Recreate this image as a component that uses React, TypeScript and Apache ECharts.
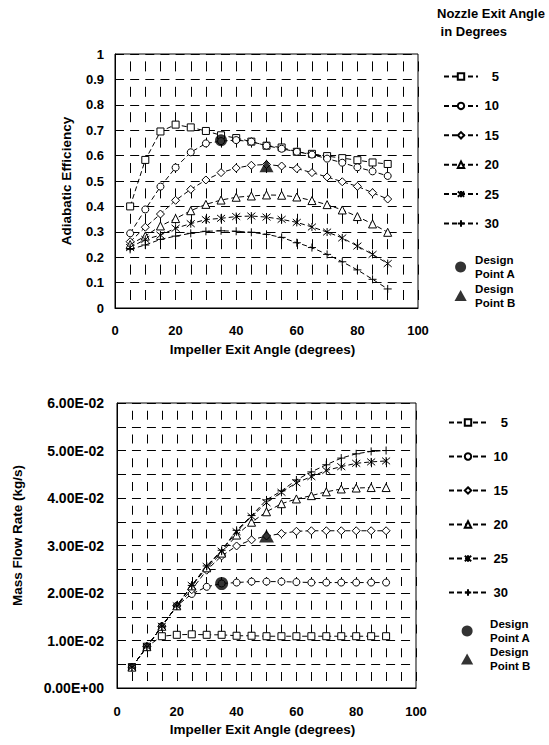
import React, { useEffect, useRef } from 'react';
import * as echarts from 'echarts';

// ---------- data ----------
const impellerAngles = [5, 10, 15, 20, 25, 30, 35, 40, 45, 50, 55, 60, 65, 70, 75, 80, 85, 90];
const nozzleLabels = ['5', '10', '15', '20', '25', '30'];

const effNozzle5 = [0.4, 0.583, 0.695, 0.722, 0.711, 0.697, 0.68, 0.669, 0.655, 0.639, 0.632, 0.615, 0.607, 0.598, 0.59, 0.582, 0.573, 0.567];
const effNozzle10 = [0.294, 0.388, 0.478, 0.553, 0.613, 0.648, 0.657, 0.661, 0.655, 0.639, 0.627, 0.615, 0.604, 0.588, 0.572, 0.554, 0.538, 0.52];
const effNozzle15 = [0.261, 0.318, 0.37, 0.424, 0.467, 0.504, 0.533, 0.551, 0.562, 0.565, 0.559, 0.549, 0.533, 0.516, 0.497, 0.479, 0.454, 0.429];
const effNozzle20 = [0.25, 0.283, 0.323, 0.352, 0.383, 0.408, 0.425, 0.436, 0.441, 0.445, 0.444, 0.437, 0.423, 0.407, 0.386, 0.36, 0.331, 0.298];
const effNozzle25 = [0.238, 0.27, 0.287, 0.314, 0.332, 0.348, 0.353, 0.36, 0.362, 0.358, 0.349, 0.337, 0.319, 0.299, 0.276, 0.244, 0.211, 0.175];
const effNozzle30 = [0.231, 0.248, 0.27, 0.283, 0.294, 0.302, 0.304, 0.302, 0.298, 0.29, 0.278, 0.257, 0.238, 0.211, 0.182, 0.15, 0.113, 0.075];

const flowNozzle5 = [0.0044, 0.0087, 0.0109, 0.0112, 0.0113, 0.0112, 0.0112, 0.011, 0.011, 0.0109, 0.0109, 0.0109, 0.0109, 0.0109, 0.0109, 0.0109, 0.0109, 0.0109];
const flowNozzle10 = [0.0044, 0.0087, 0.013, 0.0173, 0.0198, 0.0213, 0.022, 0.0222, 0.0224, 0.0224, 0.0224, 0.0223, 0.0222, 0.0222, 0.0222, 0.0222, 0.0222, 0.0222];
const flowNozzle15 = [0.0044, 0.0087, 0.013, 0.0173, 0.0207, 0.0248, 0.0278, 0.0299, 0.0312, 0.032, 0.0325, 0.033, 0.0331, 0.0331, 0.0331, 0.0331, 0.0331, 0.0331];
const flowNozzle20 = [0.0044, 0.0087, 0.013, 0.0173, 0.0215, 0.0253, 0.0284, 0.0322, 0.0349, 0.0371, 0.0388, 0.0398, 0.0405, 0.0413, 0.0419, 0.0421, 0.0422, 0.0422];
const flowNozzle25 = [0.0044, 0.0087, 0.013, 0.0173, 0.0216, 0.0256, 0.0288, 0.0329, 0.0361, 0.039, 0.0412, 0.0432, 0.0445, 0.0458, 0.0466, 0.0473, 0.0476, 0.0478];
const flowNozzle30 = [0.0044, 0.0087, 0.013, 0.0173, 0.0216, 0.0257, 0.029, 0.0332, 0.0363, 0.0396, 0.0415, 0.0438, 0.0455, 0.047, 0.0484, 0.0493, 0.0498, 0.05];

const effDesignA = [35, 0.66];
const effDesignB = [50, 0.56];
const flowDesignA = [35, 0.022];
const flowDesignB = [50, 0.032];

const designNames = ['Design Point A', 'Design Point B'];
const xAxisTitle = 'Impeller Exit Angle (degrees)';
const effAxisTitle = 'Adiabatic Efficiency';
const flowAxisTitle = 'Mass Flow Rate (kg/s)';
const legendTitle = 'Nozzle Exit Angle\n in Degrees';

// ---------- styling ----------
const FONT = '"Liberation Sans", Arial, Helvetica, sans-serif';
const SYM_ASTERISK = 'path://M5 0L5 10M0.8 0.8L9.2 9.2M9.2 0.8L0.8 9.2';
const SYM_PLUS = 'path://M5 0L5 10M0 5L10 5';
const SYM_TRIANGLE = 'path://M5 0L10 9L0 9Z';
const nozzleSymbols = ['rect', 'circle', 'diamond', 'triangle', SYM_ASTERISK, SYM_PLUS];
const nozzleSymbolSizes = [7, 7, 8, 8, 8, 8];

const effSeries = [effNozzle5, effNozzle10, effNozzle15, effNozzle20, effNozzle25, effNozzle30];
const flowSeries = [flowNozzle5, flowNozzle10, flowNozzle15, flowNozzle20, flowNozzle25, flowNozzle30];

function expLabel(v: number): string {
  const [m, e] = v.toExponential(2).split('e');
  const sign = e[0] === '-' ? '-' : '+';
  const digits = e.replace(/^[+-]/, '').padStart(2, '0');
  return `${m}E${sign}${digits}`;
}

function lineSeries(name: string, values: number[], idx: number, axis: number) {
  return {
    type: 'line',
    name,
    xAxisIndex: axis,
    yAxisIndex: axis,
    data: impellerAngles.map((a, i) => [a, values[i]]),
    symbol: nozzleSymbols[idx],
    symbolSize: nozzleSymbolSizes[idx],
    showSymbol: true,
    lineStyle: { color: '#000', width: 1, type: [5, 3] },
    itemStyle: { color: '#fff', borderColor: '#000', borderWidth: 1 },
    emphasis: { disabled: true },
    z: 3,
  };
}

function designSeries(name: string, point: number[], symbol: string, size: any, axis: number) {
  return {
    type: 'scatter',
    name,
    xAxisIndex: axis,
    yAxisIndex: axis,
    data: [point],
    symbol,
    symbolSize: size,
    itemStyle: { color: '#000' },
    emphasis: { disabled: true },
    z: 5,
  };
}

const axisLabelStyle = { color: '#000', fontFamily: FONT, fontWeight: 'bold' as const, fontSize: 13 };
const nameStyle = { color: '#000', fontFamily: FONT, fontWeight: 'bold' as const, fontSize: 13.5 };

function xAxisDef(gridIndex: number, cellH: number, cellDash: number) {
  const dashStyle = { color: '#000', width: 1, type: [cellDash, cellH - cellDash], dashOffset: cellH - (cellH - cellDash) / 2 };
  return {
    type: 'value',
    gridIndex,
    min: 0,
    max: 100,
    interval: 20,
    name: xAxisTitle,
    nameLocation: 'middle',
    nameGap: 34,
    nameTextStyle: { ...nameStyle, padding: [0, 8, 0, 0] },
    axisLine: { show: true, lineStyle: { color: '#000', width: 1 } },
    axisTick: { show: false },
    axisLabel: { ...axisLabelStyle, margin: gridIndex === 0 ? 16 : 17 },
    splitLine: { show: true, lineStyle: dashStyle },
    minorTick: { show: false, splitNumber: 4 },
    minorSplitLine: { show: true, lineStyle: dashStyle },
  };
}

function App() {
  const ref = useRef<HTMLDivElement>(null);
  useEffect(() => {
    if (!ref.current) return;
    const chart = echarts.init(ref.current, undefined, { renderer: 'svg' });

    const topCellW = 303 / 20;
    const botCellW = 299 / 20;
    const hDash = (cw: number) => ({ color: '#000', width: 1, type: [9, cw - 9], dashOffset: 0 });

    const series: any[] = [];
    nozzleLabels.forEach((n, i) => series.push(lineSeries(n, effSeries[i], i, 0)));
    series.push(designSeries(designNames[0], effDesignA, 'circle', 12, 0));
    series.push(designSeries(designNames[1], effDesignB, SYM_TRIANGLE, [14, 13], 0));
    nozzleLabels.forEach((n, i) => series.push(lineSeries(n, flowSeries[i], i, 1)));
    series.push(designSeries(designNames[0], flowDesignA, 'circle', 13, 1));
    series.push(designSeries(designNames[1], flowDesignB, SYM_TRIANGLE, [15, 13], 1));

    const seriesLegend = (left: number, top: number, gap: number, w: number) => ({
      orient: 'vertical',
      left,
      top,
      padding: 0,
      itemGap: gap,
      itemWidth: w,
      itemHeight: 8,
      selectedMode: false,
      data: nozzleLabels,
      formatter: (name: string) => `{n|${name}}`,
      textStyle: {
        color: '#000',
        rich: { n: { width: 16, align: 'right', fontFamily: FONT, fontWeight: 'bold', fontSize: 13, lineHeight: 14, color: '#000' } },
      },
    });
    const designLegend = (left: number, top: number, gap: number, w: number) => ({
      orient: 'vertical',
      left,
      top,
      padding: 0,
      itemGap: gap,
      itemWidth: w,
      itemHeight: 11,
      selectedMode: false,
      data: designNames,
      formatter: (name: string) => name.replace('Design ', 'Design\n'),
      textStyle: { color: '#000', fontFamily: FONT, fontWeight: 'bold', fontSize: 11.5, lineHeight: 14 },
    });

    const option: any = {
      animation: false,
      backgroundColor: '#fff',
      title: {
        text: legendTitle,
        left: 437,
        top: 4,
        padding: 0,
        textStyle: { color: '#000', fontFamily: FONT, fontWeight: 'bold', fontSize: 13, lineHeight: 18 },
      },
      legend: [
        seriesLegend(443, 70, 16.4, 34),
        designLegend(454.5, 253, 0.5, 19),
        seriesLegend(448, 416, 21, 38),
        designLegend(461, 617, 0, 36),
      ],
      grid: [
        { left: 115, top: 54, width: 303, height: 254, show: true, borderColor: '#000', borderWidth: 1, backgroundColor: 'transparent' },
        { left: 117, top: 403, width: 299, height: 285, show: true, borderColor: '#000', borderWidth: 1, backgroundColor: 'transparent' },
      ],
      xAxis: [xAxisDef(0, 25.4, 10), xAxisDef(1, 23.75, 9)],
      yAxis: [
        {
          type: 'value',
          gridIndex: 0,
          min: 0,
          max: 1,
          interval: 0.1,
          name: effAxisTitle,
          nameLocation: 'middle',
          nameGap: 42,
          nameTextStyle: nameStyle,
          axisLine: { show: true, lineStyle: { color: '#000', width: 1 } },
          axisTick: { show: false },
          axisLabel: { ...axisLabelStyle, margin: 11, formatter: (v: number) => (v === 0 ? '0' : v === 1 ? '1' : v.toFixed(1)) },
          splitLine: { show: true, lineStyle: hDash(topCellW) },
        },
        {
          type: 'value',
          gridIndex: 1,
          min: 0,
          max: 0.06,
          interval: 0.01,
          name: flowAxisTitle,
          nameLocation: 'middle',
          nameGap: 93,
          nameTextStyle: { ...nameStyle, padding: [0, 0, 0, 20] },
          axisLine: { show: true, lineStyle: { color: '#000', width: 1 } },
          axisTick: { show: false },
          axisLabel: { ...axisLabelStyle, fontSize: 14, margin: 13, formatter: (v: number) => expLabel(v) },
          splitLine: { show: true, lineStyle: hDash(botCellW) },
          minorTick: { show: false, splitNumber: 2 },
          minorSplitLine: { show: true, lineStyle: hDash(botCellW) },
        },
      ],
      series,
    };
    chart.setOption(option);
    return () => chart.dispose();
  }, []);

  return <div ref={ref} style={{ position: 'absolute', left: 0, top: 0, width: 549, height: 745 }} />;
}

export default App;
